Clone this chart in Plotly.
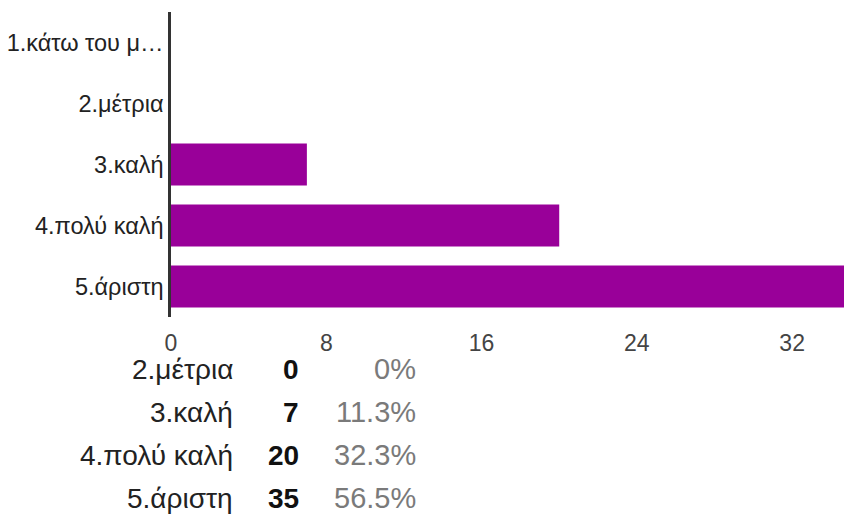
import plotly.graph_objects as go

categories = ["1.κάτω του μ…", "2.μέτρια", "3.καλή", "4.πολύ καλή", "5.άριστη"]
counts = [0, 0, 7, 20, 35]
x_ticks = [0, 8, 16, 24, 32]

table_labels = categories[1:]
table_counts = counts[1:]
total = sum(counts)

W, H = 844, 522
ml, mt = 171, 12
mr = 0
mb = H - 317
pw, ph = W - ml - mr, H - mt - mb

fig = go.Figure(go.Bar(
    y=categories, x=counts, orientation="h",
    marker=dict(color="#990099", line=dict(width=0)),
    width=0.69,
))

def px2x(X):
    return (X - ml) / pw

def px2y(Y):
    return (H - mb - Y) / ph

annotations = []
row_y = [369, 412, 455, 498]
font_fam = "Liberation Sans, Arial, sans-serif"
for i, (lab, c) in enumerate(zip(table_labels, table_counts)):
    pct = c / total * 100
    pct_txt = "0%" if c == 0 else f"{pct:.1f}%"
    yy = px2y(row_y[i])
    annotations.append(dict(x=px2x(235), y=yy, xref="paper", yref="paper", text=lab,
                            showarrow=False, xanchor="right", yanchor="middle",
                            font=dict(family=font_fam, size=28, color="#222222")))
    annotations.append(dict(x=px2x(301), y=yy, xref="paper", yref="paper", text=f"<b>{c}</b>",
                            showarrow=False, xanchor="right", yanchor="middle",
                            font=dict(family=font_fam, size=28, color="#111111")))
    annotations.append(dict(x=px2x(418), y=yy, xref="paper", yref="paper", text=pct_txt,
                            showarrow=False, xanchor="right", yanchor="middle",
                            font=dict(family=font_fam, size=29, color="#7a7a7a")))

fig.update_layout(
    width=W, height=H,
    margin=dict(l=ml, r=mr, t=mt, b=mb, pad=0),
    paper_bgcolor="white", plot_bgcolor="white",
    showlegend=False,
    bargap=0.31,
    font=dict(family=font_fam, size=22, color="#222222"),
    xaxis=dict(range=[0, 34.67], tickvals=x_ticks, showgrid=False, zeroline=False,
               showline=False, ticks="", tickfont=dict(size=23, color="#444444"),
               ticklabelstandoff=10, fixedrange=True),
    yaxis=dict(categoryorder="array", categoryarray=categories, autorange="reversed",
               showgrid=False, zeroline=False, showline=True, linecolor="#333333",
               linewidth=2.5, ticks="", tickfont=dict(size=23.5, color="#222222"),
               ticklabelstandoff=0, fixedrange=True),
    annotations=annotations,
)

fig.write_html("out.html",
               config={"displayModeBar": False},
               post_script="document.body.style.margin='0';document.body.style.overflow='hidden';")
